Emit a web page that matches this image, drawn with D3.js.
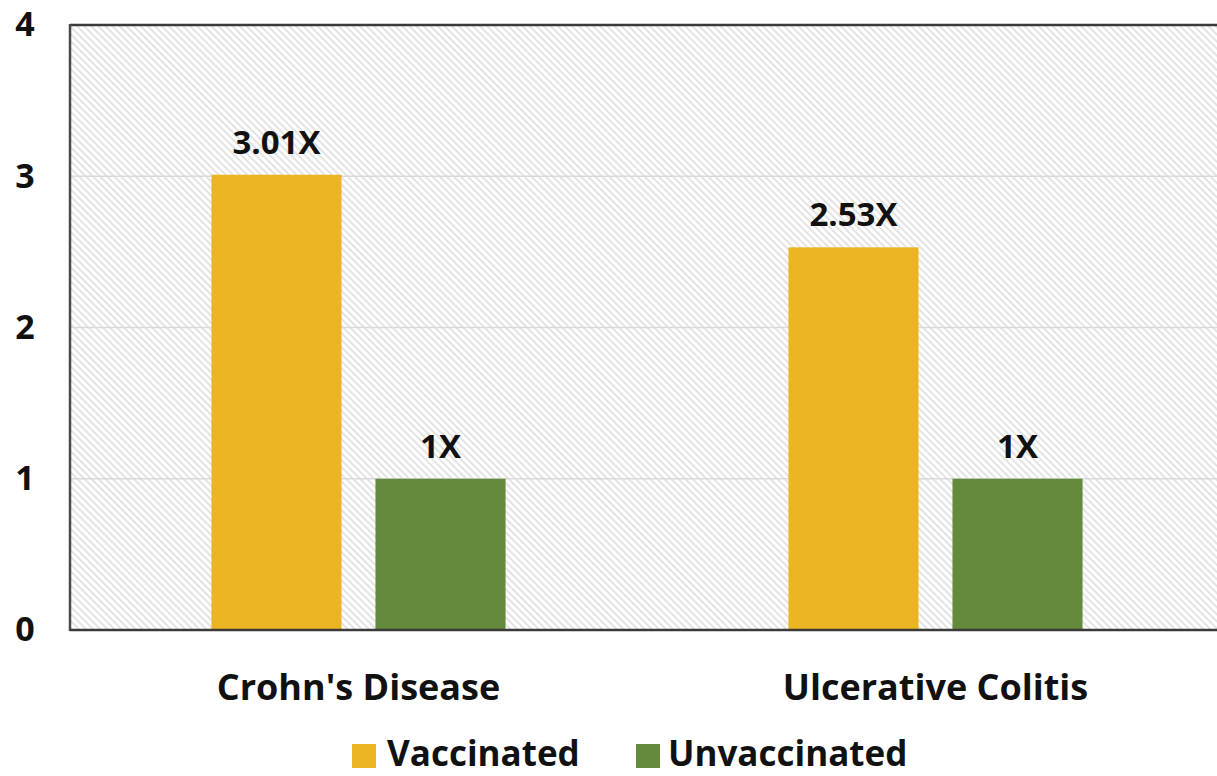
<!DOCTYPE html>
<html>
<head>
<meta charset="utf-8">
<script src="https://cdn.jsdelivr.net/npm/d3@7"></script>
<style>
  html, body { margin: 0; padding: 0; background: #fff; }
  svg { display: block; font-family: "Open Sans", sans-serif; font-weight: bold; }
</style>
</head>
<body>
<svg id="chart" width="1217" height="776"></svg>
<script>
const categories = ["Crohn's Disease", "Ulcerative Colitis"];
const seriesNames = ["Vaccinated", "Unvaccinated"];
const vaccinated = [3.01, 2.53];
const unvaccinated = [1, 1];
const dataLabels = [["3.01X", "1X"], ["2.53X", "1X"]];
const yTicks = [0, 1, 2, 3, 4];
const colors = ["#EAB422", "#648A3C"];

(function () {
const svg = d3.select("#chart");
const W = 1217, H = 776;
const mLeft = 70, mTop = 25, mBottom = 630, mRight = 1224;

const x0 = d3.scaleBand().domain(categories).range([mLeft, mRight]).paddingInner(0).paddingOuter(0);
const x1 = d3.scaleBand().domain(seriesNames).range([0, x0.bandwidth()]).paddingInner(0.207).paddingOuter(0.8625);
const y = d3.scaleLinear().domain([0, 4]).range([mBottom, mTop]);
const color = d3.scaleOrdinal().domain(seriesNames).range(colors);

// hatch pattern
const defs = svg.append("defs");
const pat = defs.append("pattern")
  .attr("id", "hatch").attr("patternUnits", "userSpaceOnUse")
  .attr("width", 5).attr("height", 5)
  .attr("patternTransform", "rotate(-45)");
pat.append("rect").attr("width", 5).attr("height", 5).attr("fill", "#ffffff");
pat.append("line").attr("x1", 1).attr("y1", 0).attr("x2", 1).attr("y2", 5)
  .attr("stroke", "#e0e0e0").attr("stroke-width", 1.8);

svg.append("rect").attr("x", mLeft).attr("y", mTop)
  .attr("width", W - mLeft).attr("height", mBottom - mTop)
  .attr("fill", "url(#hatch)");

// gridlines
svg.append("g").selectAll("line").data(yTicks.filter(d => d > 0 && d < 4)).join("line")
  .attr("x1", mLeft).attr("x2", W)
  .attr("y1", d => y(d)).attr("y2", d => y(d))
  .attr("stroke", "#d9d9d9").attr("stroke-width", 1.5);

// y axis labels
const yAxis = d3.axisLeft(y).tickValues(yTicks).tickSize(0).tickPadding(0).tickFormat(d3.format("d"));
const yg = svg.append("g").attr("transform", `translate(25,0)`).call(yAxis);
yg.select(".domain").remove();
yg.selectAll("text").attr("text-anchor", "middle").attr("x", 0)
  .attr("font-size", 34).attr("font-weight", "bold").attr("font-family", "'Open Sans', sans-serif")
  .attr("fill", "#111");

// bars
const rows = categories.map((c, i) => ({ cat: c, vals: [vaccinated[i], unvaccinated[i]], labels: dataLabels[i] }));
const groups = svg.append("g").selectAll("g").data(rows).join("g")
  .attr("transform", d => `translate(${x0(d.cat)},0)`);
groups.selectAll("rect").data(d => seriesNames.map((s, j) => ({ s, v: d.vals[j], label: d.labels[j] }))).join("rect")
  .attr("x", d => x1(d.s)).attr("width", x1.bandwidth())
  .attr("y", d => y(d.v)).attr("height", d => y(0) - y(d.v))
  .attr("fill", d => color(d.s));
groups.selectAll("text").data(d => seriesNames.map((s, j) => ({ s, v: d.vals[j], label: d.labels[j] }))).join("text")
  .attr("x", d => x1(d.s) + x1.bandwidth() / 2)
  .attr("y", d => y(d.v) - 21)
  .attr("text-anchor", "middle").attr("font-size", 33).attr("fill", "#111")
  .text(d => d.label);

// frame lines
svg.append("line").attr("x1", mLeft).attr("x2", W).attr("y1", mTop).attr("y2", mTop)
  .attr("stroke", "#3a3a3a").attr("stroke-width", 2.5);
svg.append("line").attr("x1", mLeft).attr("x2", mLeft).attr("y1", mTop - 1).attr("y2", mBottom + 1)
  .attr("stroke", "#4a4a4a").attr("stroke-width", 2.5);
svg.append("line").attr("x1", mLeft).attr("x2", W).attr("y1", mBottom).attr("y2", mBottom)
  .attr("stroke", "#3a3a3a").attr("stroke-width", 2.5);

// x axis category labels
const xAxis = d3.axisBottom(x0).tickSize(0).tickPadding(0);
const xg = svg.append("g").attr("transform", `translate(0,${mBottom})`).call(xAxis);
xg.select(".domain").remove();
xg.selectAll("text").attr("y", 70).attr("dy", null)
  .attr("font-size", 36).attr("font-weight", "bold").attr("font-family", "'Open Sans', sans-serif")
  .attr("fill", "#111");

// legend
const legendItems = [
  { name: seriesNames[0], sx: 352, tx: 387 },
  { name: seriesNames[1], sx: 636, tx: 668 }
];
const lg = svg.append("g");
lg.selectAll("rect").data(legendItems).join("rect")
  .attr("x", d => d.sx).attr("y", 744).attr("width", 24).attr("height", 24)
  .attr("fill", d => color(d.name));
lg.selectAll("text").data(legendItems).join("text")
  .attr("x", d => d.tx).attr("y", 766)
  .attr("font-size", 35).attr("fill", "#111")
  .text(d => d.name);
})();
</script>
</body>
</html>
